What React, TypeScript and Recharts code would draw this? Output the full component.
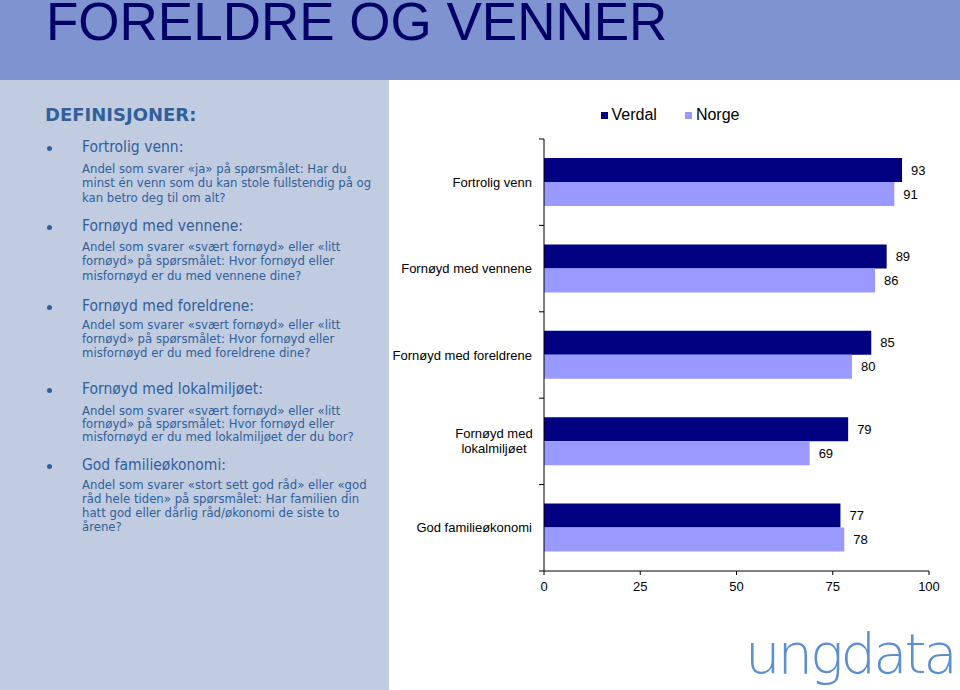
import React from 'react';
import { BarChart, Bar, XAxis, YAxis, Legend, LabelList } from 'recharts';

const categories = [
  'Fortrolig venn',
  'Fornøyd med vennene',
  'Fornøyd med foreldrene',
  'Fornøyd med lokalmiljøet',
  'God familieøkonomi',
];
const seriesNames = ['Verdal', 'Norge'];
const verdal = [93, 89, 85, 79, 77];
const norge = [91, 86, 80, 69, 78];
const xTicks = [0, 25, 50, 75, 100];

const definitionTitles = [
  'Fortrolig venn:',
  'Fornøyd med vennene:',
  'Fornøyd med foreldrene:',
  'Fornøyd med lokalmiljøet:',
  'God familieøkonomi:',
];
const definitionLines = [
  ['Andel som svarer «ja» på spørsmålet: Har du', 'minst én venn som du kan stole fullstendig på og', 'kan betro deg til om alt?'],
  ['Andel som svarer «svært fornøyd» eller «litt', 'fornøyd» på spørsmålet: Hvor fornøyd eller', 'misfornøyd er du med vennene dine?'],
  ['Andel som svarer «svært fornøyd» eller «litt', 'fornøyd» på spørsmålet: Hvor fornøyd eller', 'misfornøyd er du med foreldrene dine?'],
  ['Andel som svarer «svært fornøyd» eller «litt', 'fornøyd» på spørsmålet: Hvor fornøyd eller', 'misfornøyd er du med lokalmiljøet der du bor?'],
  ['Andel som svarer «stort sett god råd» eller «god', 'råd hele tiden» på spørsmålet: Har familien din', 'hatt god eller dårlig råd/økonomi de siste to', 'årene?'],
];

const data = categories.map((name, i) => ({ name, Verdal: verdal[i], Norge: norge[i] }));

const chartFont = 'Liberation Sans, Arial, sans-serif';
const panelFont = "'DejaVu Sans Condensed', 'DejaVu Sans', sans-serif";
const textBlue = '#30609c';

// chart geometry
const chartW = 570;
const chartH = 520;
const margin = { top: 49, right: 31, bottom: 9, left: 0 };
const xAxisH = 30;
const tickGap = 12; // tickSize + tickMargin of the category axis
const bandSize = (chartH - margin.top - margin.bottom - xAxisH) / categories.length;

// layout of the definition blocks (heading centre, first body line centre, line height)
const headingY = [148, 227, 307, 390, 466];
const bodyY = [169, 247, 325, 410, 485];
const bodyLh = [14.5, 14.5, 14, 13, 14];

const CategoryTick = (props: any) => {
  const { x, y, payload, index } = props;
  const label: string = payload.value;
  const axisX = x + tickGap;
  const edges = [y - bandSize / 2];
  if (index === categories.length - 1) edges.push(y + bandSize / 2);
  const marks = edges.map((ey, i) => (
    <line key={`m${i}`} x1={axisX - 5} x2={axisX} y1={ey} y2={ey} stroke="#000" />
  ));
  if (label.length > 22) {
    const cut = label.lastIndexOf(' ');
    const lines = [label.slice(0, cut), label.slice(cut + 1)];
    return (
      <g>
        {marks}
        <text x={x - 38} y={y} textAnchor="middle" fontFamily={chartFont} fontSize={13} fill="#000">
          {lines.map((l, i) => (
            <tspan key={i} x={x - 38} dy={i === 0 ? -3 : 15}>{l}</tspan>
          ))}
        </text>
      </g>
    );
  }
  return (
    <g>
      {marks}
      <text x={x} y={y} dy={4.5} textAnchor="end" fontFamily={chartFont} fontSize={13} fill="#000">
        {label}
      </text>
    </g>
  );
};

const App: React.FC = () => {
  return (
    <div style={{ position: 'absolute', left: 0, top: 0, width: 960, height: 690, overflow: 'hidden', background: '#fff' }}>
      <div style={{ position: 'absolute', left: 0, top: 0, width: 960, height: 80, background: '#7f93d0' }} />
      <div
        style={{
          position: 'absolute', left: 46, top: 0, fontFamily: chartFont, fontSize: 53, lineHeight: '44px',
          color: '#000066', whiteSpace: 'nowrap',
        }}
      >
        FORELDRE OG VENNER
      </div>

      <div style={{ position: 'absolute', left: 0, top: 80, width: 389, height: 610, background: '#c1cce0' }} />
      <div
        style={{
          position: 'absolute', left: 45, top: 104, fontFamily: 'DejaVu Sans, sans-serif', fontWeight: 'bold',
          fontSize: 18, lineHeight: '22px', color: textBlue, whiteSpace: 'nowrap',
        }}
      >
        DEFINISJONER:
      </div>
      {definitionTitles.map((title, i) => (
        <React.Fragment key={title}>
          <div
            style={{
              position: 'absolute', left: 47, top: headingY[i] - 2, width: 5, height: 5,
              borderRadius: '50%', background: textBlue,
            }}
          />
          <div
            style={{
              position: 'absolute', left: 82, top: headingY[i] - 10, fontFamily: panelFont, fontStretch: 'condensed',
              fontSize: 15.5, lineHeight: '19px', color: textBlue, whiteSpace: 'nowrap',
            }}
          >
            {title}
          </div>
          <div
            style={{
              position: 'absolute', left: 82, top: bodyY[i] - bodyLh[i] / 2, fontFamily: panelFont,
              fontStretch: 'condensed', fontSize: 13, lineHeight: `${bodyLh[i]}px`, color: textBlue,
              whiteSpace: 'nowrap',
            }}
          >
            {definitionLines[i].map((line, j) => (
              <div key={j}>{line}</div>
            ))}
          </div>
        </React.Fragment>
      ))}

      <div style={{ position: 'absolute', left: 390, top: 90 }}>
        <BarChart
          width={chartW}
          height={chartH}
          data={data}
          layout="vertical"
          margin={margin}
          barCategoryGap="22%"
          barGap={0}
        >
          <XAxis
            type="number"
            domain={[0, 100]}
            ticks={xTicks}
            tickSize={4}
            tickMargin={7}
            height={xAxisH}
            axisLine={{ stroke: '#000' }}
            tickLine={{ stroke: '#000' }}
            tick={{ fill: '#000', fontSize: 13, fontFamily: chartFont }}
          />
          <YAxis
            type="category"
            dataKey="name"
            width={154}
            tickLine={false}
            tickSize={6}
            tickMargin={6}
            axisLine={{ stroke: '#000' }}
            tick={<CategoryTick />}
          />
          <Legend
            verticalAlign="middle"
            align="center"
            layout="horizontal"
            iconType="square"
            iconSize={7}
            itemSorter={(item: any) => seriesNames.indexOf(item.value)}
            wrapperStyle={{ top: 16, left: 0, width: chartW, fontFamily: chartFont, fontSize: 16, lineHeight: '18px' }}
            formatter={(value: any) => (
              <span style={{ color: '#000', marginRight: value === seriesNames[0] ? 18 : 0 }}>{value}</span>
            )}
          />
          <Bar dataKey="Verdal" fill="#000080" isAnimationActive={false}>
            <LabelList dataKey="Verdal" position="right" offset={9} fill="#000" fontSize={13} fontFamily={chartFont} />
          </Bar>
          <Bar dataKey="Norge" fill="#9999ff" isAnimationActive={false}>
            <LabelList dataKey="Norge" position="right" offset={9} fill="#000" fontSize={13} fontFamily={chartFont} />
          </Bar>
        </BarChart>
      </div>

      <div
        style={{
          position: 'absolute', left: 745, top: 626, fontFamily: 'DejaVu Sans, sans-serif', fontWeight: 200,
          fontSize: 56, lineHeight: '56px', letterSpacing: -3, color: '#5b8fcf', whiteSpace: 'nowrap',
        }}
      >
        ungdata
      </div>
    </div>
  );
};

export default App;
